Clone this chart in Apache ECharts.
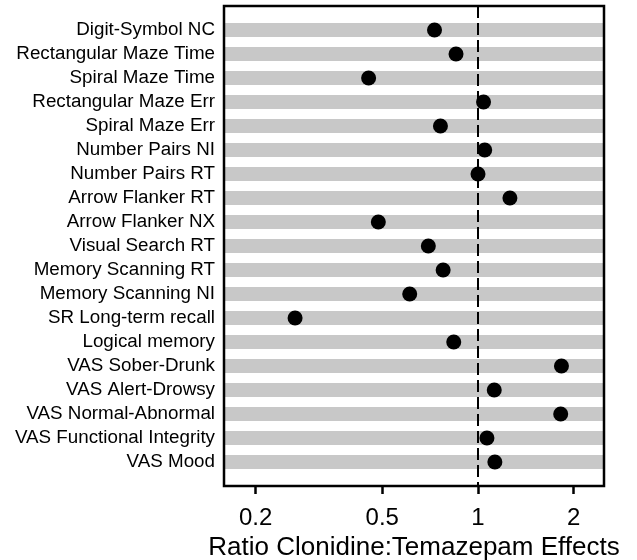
<!DOCTYPE html>
<html>
<head>
<meta charset="utf-8">
<script src="https://cdn.jsdelivr.net/npm/echarts@6/dist/echarts.min.js"></script>
<style>
  html, body { margin: 0; padding: 0; background: #fff; }
  #chart { width: 637px; height: 560px; }
</style>
</head>
<body>
<div id="chart"></div>
<script>
var tests = ['Digit-Symbol NC', 'Rectangular Maze Time', 'Spiral Maze Time', 'Rectangular Maze Err',
    'Spiral Maze Err', 'Number Pairs NI', 'Number Pairs RT', 'Arrow Flanker RT', 'Arrow Flanker NX',
    'Visual Search RT', 'Memory Scanning RT', 'Memory Scanning NI', 'SR Long-term recall',
    'Logical memory', 'VAS Sober-Drunk', 'VAS Alert-Drowsy', 'VAS Normal-Abnormal',
    'VAS Functional Integrity', 'VAS Mood'];
var ratios = [0.73, 0.853, 0.453, 1.041, 0.762, 1.05, 1.0, 1.26, 0.486, 0.698, 0.777, 0.61,
    0.266, 0.839, 1.83, 1.125, 1.82, 1.067, 1.13];
var xTicks = [0.2, 0.5, 1, 2];
var rowNums = tests.map(function(t, i) { return i + 1; });

var chart = echarts.init(document.getElementById('chart'));

// grey band behind each row
var bands = rowNums.map(function(r) {
    return [{ yAxis: r - 0.29 }, { yAxis: r + 0.29 }];
});

chart.setOption({
    animation: false,
    grid: {
        left: 224, right: 33, top: 6, bottom: 74,
        outerBoundsMode: 'none',
        show: true, z: 5,
        backgroundColor: 'transparent',
        borderColor: '#000', borderWidth: 2.5
    },
    xAxis: {
        type: 'log',
        logBase: 10,
        min: 0.159,
        max: 2.49,
        name: 'Ratio Clonidine:Temazepam Effects',
        nameLocation: 'middle',
        nameGap: 43,
        nameTextStyle: { fontFamily: 'Liberation Sans', fontSize: 26, color: '#000' },
        axisLine: { show: false, onZero: false },
        splitLine: { show: false },
        axisTick: {
            customValues: xTicks,
            length: 8,
            lineStyle: { color: '#000', width: 2.5 }
        },
        axisLabel: {
            customValues: xTicks,
            margin: 20,
            fontFamily: 'Liberation Sans', fontSize: 24, color: '#000'
        }
    },
    yAxis: {
        type: 'value',
        min: 0,
        max: 20,
        inverse: true,
        axisLine: { show: false, onZero: false },
        axisTick: { show: false },
        splitLine: { show: false },
        axisLabel: {
            customValues: rowNums,
            margin: 9,
            fontFamily: 'Liberation Sans', fontSize: 18.8, color: '#000',
            formatter: function(v) { return tests[v - 1]; }
        }
    },
    series: [{
        type: 'scatter',
        data: ratios.map(function(v, i) { return [v, i + 1]; }),
        symbolSize: 15,
        itemStyle: { color: '#000', opacity: 1 },
        markArea: {
            silent: true,
            itemStyle: { color: '#c8c8c8' },
            data: bands
        },
        markLine: {
            silent: true,
            symbol: 'none',
            label: { show: false },
            lineStyle: { color: '#000', width: 2, type: [12, 5] },
            data: [{ xAxis: 1 }]
        }
    }]
});
</script>
</body>
</html>
